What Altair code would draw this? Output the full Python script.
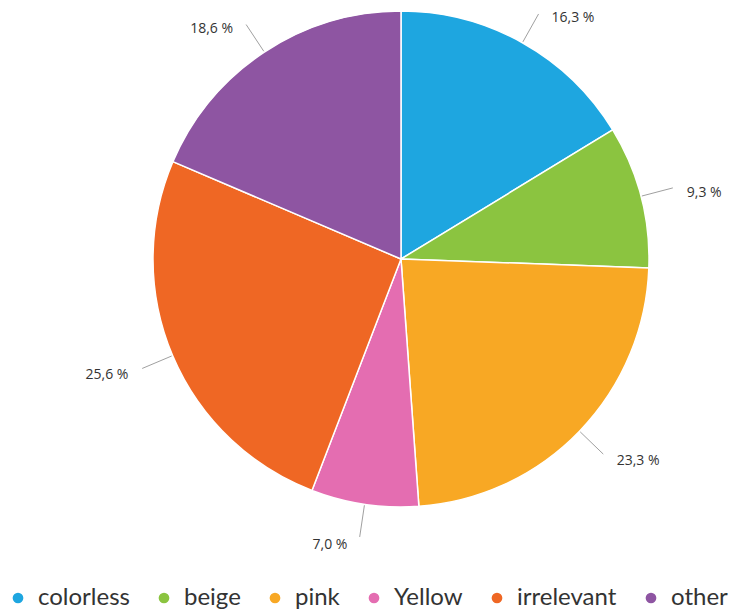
import altair as alt
import pandas as pd

categories = ["colorless", "beige", "pink", "Yellow", "irrelevant", "other"]
values = [16.3, 9.3, 23.3, 7.0, 25.6, 18.6]
colors = ["#1EA6E0", "#8BC440", "#F8A824", "#E46DB1", "#EF6724", "#8E55A2"]

df = pd.DataFrame({
    "category": categories,
    "value": values,
    "order": list(range(len(categories))),
    "label": [f"{v:.1f}".replace(".", ",") + " %" for v in values],
})

CX, CY, R = 393, 251, 248

base = alt.Chart(df)

color = alt.Color(
    "category:N",
    scale=alt.Scale(domain=categories, range=colors),
    sort=categories,
    legend=alt.Legend(
        title=None, orient="none", direction="horizontal", columns=6,
        legendX=-2, legendY=578, symbolType="circle", symbolSize=115,
        symbolStrokeWidth=0, labelFont="Lato", labelFontSize=24,
        labelColor="#333333", columnPadding=22, padding=0, labelOffset=8,
        symbolOffset=0,
    ),
)

arcs = base.mark_arc(outerRadius=R, stroke="white", strokeWidth=1.5).encode(
    theta=alt.Theta("value:Q", stack=True),
    order=alt.Order("order:Q"),
    color=color,
    x=alt.value(CX),
    y=alt.value(CY),
)

geo = base.transform_joinaggregate(total="sum(value)").transform_window(
    cum="sum(value)", sort=[alt.SortField("order")], frame=[None, 0]
).transform_calculate(
    mid="(datum.cum - datum.value/2) / datum.total * 2 * PI",
).transform_calculate(
    x1=f"{CX} + {R + 1} * sin(datum.mid)",
    y1=f"{CY} - {R + 1} * cos(datum.mid)",
    x2=f"{CX} + 281 * sin(datum.mid)",
    y2=f"{CY} - 281 * cos(datum.mid)",
    tx=f"{CX} + 283 * sin(datum.mid)",
    ty=f"{CY} - 283 * cos(datum.mid)",
    right="sin(datum.mid) >= 0",
)

rules = geo.mark_rule(color="#a0a0a0", strokeWidth=1).encode(
    x=alt.X("x1:Q", scale=None),
    y=alt.Y("y1:Q", scale=None),
    x2="x2:Q",
    y2="y2:Q",
)

text_enc = dict(
    x=alt.X("tx:Q", scale=None),
    y=alt.Y("ty:Q", scale=None),
    text="label:N",
)

texts_right = geo.transform_filter("datum.right").mark_text(
    font="Open Sans", fontSize=14, color="#333333",
    align="left", baseline="middle", dx=12, dy=6,
).encode(**text_enc)

texts_left = geo.transform_filter("!datum.right").mark_text(
    font="Open Sans", fontSize=14, color="#333333",
    align="right", baseline="middle", dx=-12, dy=6,
).encode(**text_enc)

chart = alt.layer(arcs, rules, texts_right, texts_left).properties(
    width=730, height=604, padding=0, autosize=alt.AutoSizeParams(type="none"),
).configure_view(stroke=None)

chart.save("out.html", embed_options={"renderer": "svg", "actions": False})
